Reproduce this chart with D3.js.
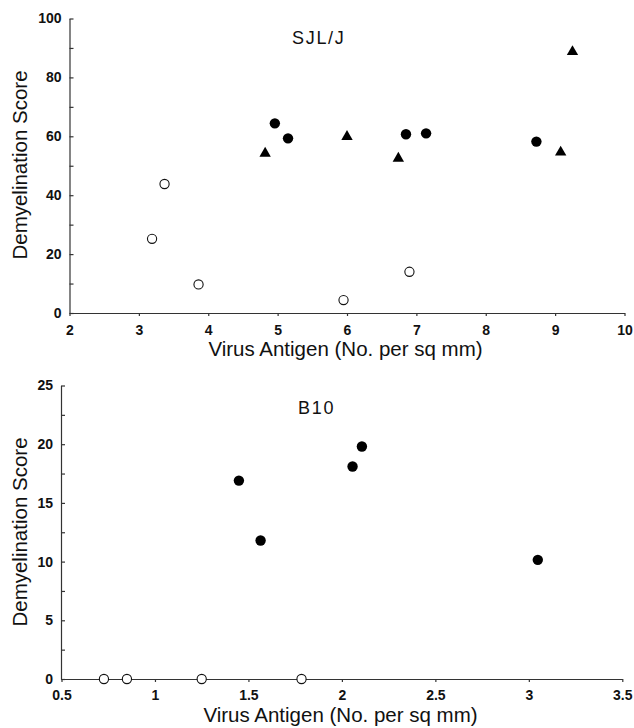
<!DOCTYPE html>
<meta charset="utf-8">
<head>
	<title>Demyelination vs virus antigen</title>
	<script type="text/javascript" src="https://cdn.jsdelivr.net/npm/d3@7/dist/d3.min.js"></script>
	<style>
		body { margin: 0; background: #fff; }
		svg { display: block; font-family: "Liberation Sans", Arial, sans-serif; }
		.tick text { font-size: 14px; font-weight: bold; fill: #111; }
		.axis path, .axis line { stroke: #333; stroke-width: 1.2; }
		.axis-title { font-size: 20.5px; fill: #111; }
		.panel-title { font-size: 18px; letter-spacing: 1.7px; fill: #111; }
	</style>
</head>
<body>
	<div id="chart"></div>
	<script>
		// SJL/J panel
		var sjlOpenX = [3.19, 3.37, 3.86, 5.95, 6.90];
		var sjlOpenY = [25.2, 43.8, 9.7, 4.4, 14.0];
		var sjlFilledX = [4.96, 5.15, 6.85, 7.14, 8.73];
		var sjlFilledY = [64.4, 59.3, 60.7, 61.0, 58.2];
		var sjlTriX = [4.82, 6.00, 6.74, 9.08, 9.25];
		var sjlTriY = [54.2, 59.9, 52.5, 54.6, 88.7];
		var sjlXTicks = [2, 3, 4, 5, 6, 7, 8, 9, 10];
		var sjlYTicks = [0, 10, 20, 30, 40, 50, 60, 70, 80, 90, 100];
		var sjlYLabels = [0, 20, 40, 60, 80, 100];

		// B10 panel
		var b10OpenX = [0.727, 0.85, 1.25, 1.784];
		var b10OpenY = [0, 0, 0, 0];
		var b10FilledX = [1.449, 1.565, 2.057, 2.107, 3.048];
		var b10FilledY = [16.9, 11.8, 18.1, 19.8, 10.15];
		var b10XTicks = [0.5, 1, 1.5, 2, 2.5, 3, 3.5];
		var b10YTicks = [0, 2.5, 5, 7.5, 10, 12.5, 15, 17.5, 20, 22.5, 25];
		var b10YLabels = [0, 5, 10, 15, 20, 25];

		var width = 634;
		var height = 728;
		var svg = d3.select("#chart").append("svg")
			.attr("width", width)
			.attr("height", height);

		function zip(xs, ys) {
			return xs.map(function (x, i) { return [x, ys[i]]; });
		}

		function drawPanel(cfg) {
			var x = d3.scaleLinear().domain(cfg.xDomain).range(cfg.xRange);
			var y = d3.scaleLinear().domain(cfg.yDomain).range(cfg.yRange);
			var g = svg.append("g");

			// x axis
			g.append("g")
				.attr("class", "axis")
				.attr("transform", "translate(0," + cfg.yRange[0] + ")")
				.call(d3.axisBottom(x)
					.tickValues(cfg.xTicks)
					.tickFormat(function (d) { return String(d); })
					.tickSizeInner(3)
					.tickSizeOuter(0)
					.tickPadding(cfg.xPad));

			// y axis, ticks point inward
			g.append("g")
				.attr("class", "axis")
				.attr("transform", "translate(" + cfg.yAxisX + ",0)")
				.call(d3.axisLeft(y)
					.tickValues(cfg.yTicks)
					.tickFormat(function (d) { return cfg.yLabels.indexOf(d) >= 0 ? String(d) : ""; })
					.tickSizeInner(-4)
					.tickSizeOuter(0)
					.tickPadding(8));

			g.append("text")
				.attr("class", "panel-title")
				.attr("x", cfg.titleX)
				.attr("y", cfg.titleY)
				.text(cfg.title);

			g.append("text")
				.attr("class", "axis-title")
				.attr("text-anchor", "middle")
				.attr("transform", "translate(27," + cfg.yTitleY + ") rotate(-90)")
				.text("Demyelination Score");

			g.append("text")
				.attr("class", "axis-title")
				.attr("text-anchor", "middle")
				.attr("x", cfg.xTitleX)
				.attr("y", cfg.xTitleY)
				.text("Virus Antigen (No. per sq mm)");

			// open circles
			g.selectAll(".open")
				.data(cfg.open)
				.enter().append("circle")
				.attr("cx", function (d) { return x(d[0]); })
				.attr("cy", function (d) { return y(d[1]); })
				.attr("r", 4.6)
				.style("fill", "#fff")
				.style("stroke", "#111")
				.style("stroke-width", 1.1);

			// filled circles
			g.selectAll(".filled")
				.data(cfg.filled)
				.enter().append("circle")
				.attr("cx", function (d) { return x(d[0]); })
				.attr("cy", function (d) { return y(d[1]); })
				.attr("r", 5.2)
				.style("fill", "#000");

			// triangles
			g.selectAll(".tri")
				.data(cfg.tri || [])
				.enter().append("path")
				.attr("d", d3.symbol().type(d3.symbolTriangle).size(56))
				.attr("transform", function (d) { return "translate(" + x(d[0]) + "," + y(d[1]) + ")"; })
				.style("fill", "#000");
		}

		drawPanel({
			xDomain: [2, 10], xRange: [69.5, 624.5],
			yDomain: [0, 100], yRange: [313, 18.5],
			yAxisX: 69.5,
			xTicks: sjlXTicks, yTicks: sjlYTicks, yLabels: sjlYLabels,
			xPad: 9,
			title: "SJL/J", titleX: 292, titleY: 44,
			yTitleY: 165, xTitleX: 345.5, xTitleY: 356,
			open: zip(sjlOpenX, sjlOpenY),
			filled: zip(sjlFilledX, sjlFilledY),
			tri: zip(sjlTriX, sjlTriY)
		});

		drawPanel({
			xDomain: [0.5, 3.5], xRange: [61.5, 622.3],
			yDomain: [0, 25], yRange: [679, 385.5],
			yAxisX: 61,
			xTicks: b10XTicks, yTicks: b10YTicks, yLabels: b10YLabels,
			xPad: 8,
			title: "B10", titleX: 298, titleY: 414,
			yTitleY: 532, xTitleX: 340.5, xTitleY: 722,
			open: zip(b10OpenX, b10OpenY),
			filled: zip(b10FilledX, b10FilledY)
		});
	</script>
</body>
</html>
